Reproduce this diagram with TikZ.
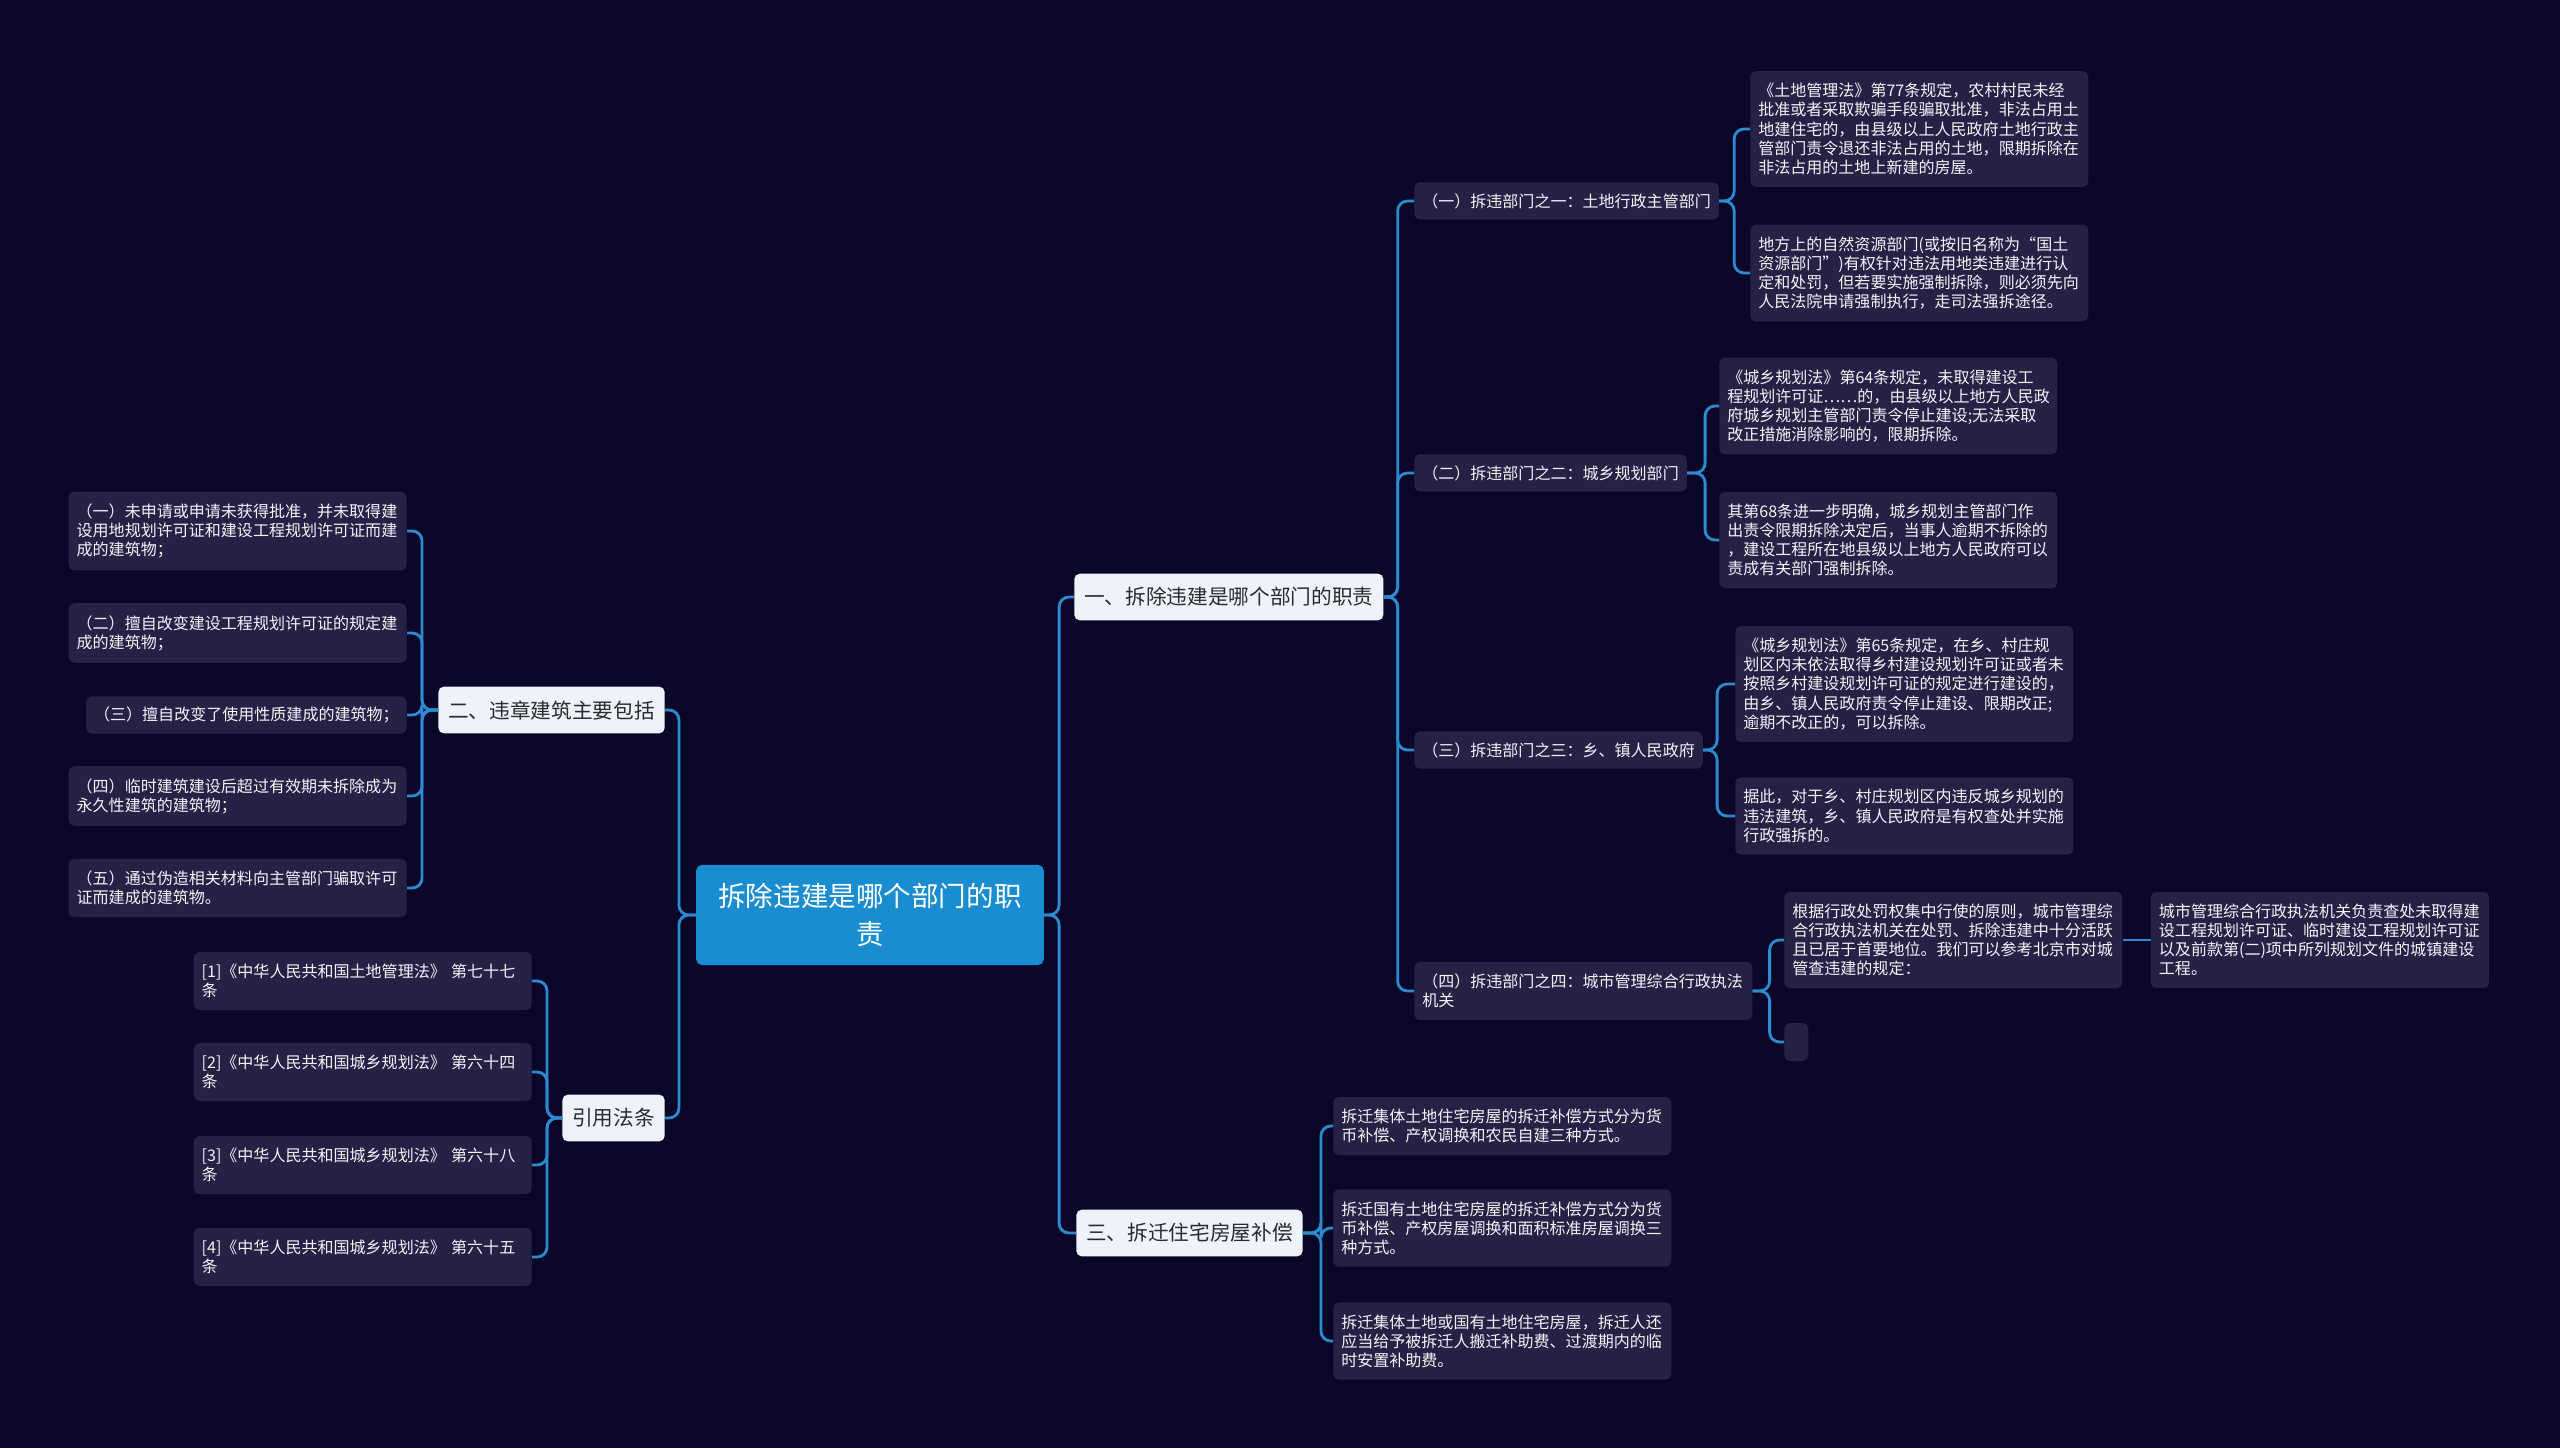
\documentclass[tikz,border=0pt]{standalone}
\usepackage{fontspec}
\setmainfont{Noto Sans CJK SC}
\usetikzlibrary{positioning}
\definecolor{navy}{HTML}{0A0729}
\definecolor{slate}{HTML}{262246}
\definecolor{paper}{HTML}{EEF3FB}
\definecolor{sky}{HTML}{1A8DD0}
\definecolor{wire}{HTML}{2E8AD0}
\definecolor{ink}{HTML}{2B2B2B}
\definecolor{snow}{HTML}{F4F4F8}

\begin{document}
\begin{tikzpicture}[
  x=0.025cm, y=-0.025cm,
  root/.style={
    fill=sky, rounded corners=4pt, text=white,
    font=\fontsize{19.6pt}{26.7pt}\selectfont,
    text width=216pt, align=center, inner xsep=15.6pt, minimum height=2.5cm
  },
  topic/.style={
    fill=paper, rounded corners=4pt, text=ink,
    font=\fontsize{14.7pt}{17pt}\selectfont,
    inner xsep=7pt, minimum height=1.17cm
  },
  branch/.style={
    fill=slate, rounded corners=4pt, text=snow,
    font=\fontsize{11.4pt}{13.6pt}\selectfont,
    inner xsep=5.7pt, minimum height=0.93cm
  },
  leaf/.style={branch, text width=229pt, align=left, inner ysep=8.6pt, minimum height=0pt},
  link/.style={draw=wire, line width=2pt, rounded corners=7pt}
]
  \useasboundingbox (0,0) rectangle (2560,1448);
  \fill[navy] (0,0) rectangle (2560,1448);

  \node[root] (root) at (870,915) {拆除违建是哪个部门的职\\责};
  \node[topic, anchor=west] (duty)  at (1074,597)  {一、拆除违建是哪个部门的职责};
  \node[topic, anchor=east] (kinds) at (665,710)   {二、违章建筑主要包括};
  \node[topic, anchor=east] (laws)  at (665,1118)  {引用法条};
  \node[topic, anchor=west] (comp)  at (1076,1233) {三、拆迁住宅房屋补偿};
  \draw[link] (root.east) -- ++(15,0) |- (duty.west);
  \draw[link] (root.east) -- ++(15,0) |- (comp.west);
  \draw[link] (root.west) -- ++(-17,0) |- (kinds.east);
  \draw[link] (root.west) -- ++(-17,0) |- (laws.east);

  % departments
  \node[branch, anchor=west] (d1) at (1414,201) {（一）拆违部门之一：土地行政主管部门};
  \node[branch, anchor=west] (d2) at (1414,473) {（二）拆违部门之二：城乡规划部门};
  \node[branch, anchor=west] (d3) at (1414,750) {（三）拆违部门之三：乡、镇人民政府};
  \node[leaf, anchor=west]   (d4) at (1414,991) {（四）拆违部门之四：城市管理综合行政执法\\机关};
  \draw[link] (duty.east) -- ++(14,0) |- (d1.west);
  \draw[link] (duty.east) -- ++(14,0) |- (d2.west);
  \draw[link] (duty.east) -- ++(14,0) |- (d3.west);
  \draw[link] (duty.east) -- ++(14,0) |- (d4.west);

  \node[leaf, anchor=west] (d1a) at (1750,129) {《土地管理法》第77条规定，农村村民未经\\批准或者采取欺骗手段骗取批准，非法占用土\\地建住宅的，由县级以上人民政府土地行政主\\管部门责令退还非法占用的土地，限期拆除在\\非法占用的土地上新建的房屋。};
  \node[leaf, anchor=west] (d1b) at (1750,273) {地方上的自然资源部门(或按旧名称为“国土\\资源部门”)有权针对违法用地类违建进行认\\定和处罚，但若要实施强制拆除，则必须先向\\人民法院申请强制执行，走司法强拆途径。};
  \draw[link] (d1.east) -- ++(15,0) |- (d1a.west);
  \draw[link] (d1.east) -- ++(15,0) |- (d1b.west);

  \node[leaf, anchor=west] (d2a) at (1719,406) {《城乡规划法》第64条规定，未取得建设工\\程规划许可证……的，由县级以上地方人民政\\府城乡规划主管部门责令停止建设;无法采取\\改正措施消除影响的，限期拆除。};
  \node[leaf, anchor=west] (d2b) at (1719,540) {其第68条进一步明确，城乡规划主管部门作\\出责令限期拆除决定后，当事人逾期不拆除的\\，建设工程所在地县级以上地方人民政府可以\\责成有关部门强制拆除。};
  \draw[link] (d2.east) -- ++(18,0) |- (d2a.west);
  \draw[link] (d2.east) -- ++(18,0) |- (d2b.west);

  \node[leaf, anchor=west] (d3a) at (1735,684) {《城乡规划法》第65条规定，在乡、村庄规\\划区内未依法取得乡村建设规划许可证或者未\\按照乡村建设规划许可证的规定进行建设的，\\由乡、镇人民政府责令停止建设、限期改正;\\逾期不改正的，可以拆除。};
  \node[leaf, anchor=west] (d3b) at (1735,816) {据此，对于乡、村庄规划区内违反城乡规划的\\违法建筑，乡、镇人民政府是有权查处并实施\\行政强拆的。};
  \draw[link] (d3.east) -- ++(14,0) |- (d3a.west);
  \draw[link] (d3.east) -- ++(14,0) |- (d3b.west);

  \node[leaf, anchor=west] (d4a) at (1784,940) {根据行政处罚权集中行使的原则，城市管理综\\合行政执法机关在处罚、拆除违建中十分活跃\\且已居于首要地位。我们可以参考北京市对城\\管查违建的规定：};
  \node[leaf, right=0.7cm of d4a] (d4c) {城市管理综合行政执法机关负责查处未取得建\\设工程规划许可证、临时建设工程规划许可证\\以及前款第(二)项中所列规划文件的城镇建设\\工程。};
  \node[fill=slate, rounded corners=4pt, minimum width=0.6cm, minimum height=0.95cm,
    inner sep=0pt, anchor=west] (d4b) at (1784,1042) {};
  \draw[link] (d4.east) -- ++(17,0) |- (d4a.west);
  \draw[link] (d4.east) -- ++(17,0) |- (d4b.west);
  \draw[link] (d4a) -- (d4c);

  % compensation
  \node[leaf, anchor=west] (c1) at (1333,1126) {拆迁集体土地住宅房屋的拆迁补偿方式分为货\\币补偿、产权调换和农民自建三种方式。};
  \node[leaf, anchor=west] (c2) at (1333,1228) {拆迁国有土地住宅房屋的拆迁补偿方式分为货\\币补偿、产权房屋调换和面积标准房屋调换三\\种方式。};
  \node[leaf, anchor=west] (c3) at (1333,1341) {拆迁集体土地或国有土地住宅房屋，拆迁人还\\应当给予被拆迁人搬迁补助费、过渡期内的临\\时安置补助费。};
  \draw[link] (comp.east) -- ++(18,0) |- (c1.west);
  \draw[link] (comp.east) -- ++(18,0) |- (c2.west);
  \draw[link] (comp.east) -- ++(18,0) |- (c3.west);

  % kinds of illegal buildings
  \node[leaf, anchor=east]   (k1) at (407,531) {（一）未申请或申请未获得批准，并未取得建\\设用地规划许可证和建设工程规划许可证而建\\成的建筑物；};
  \node[leaf, anchor=east]   (k2) at (407,633) {（二）擅自改变建设工程规划许可证的规定建\\成的建筑物；};
  \node[branch, anchor=east] (k3) at (407,715) {（三）擅自改变了使用性质建成的建筑物；};
  \node[leaf, anchor=east]   (k4) at (407,796) {（四）临时建筑建设后超过有效期未拆除成为\\永久性建筑的建筑物；};
  \node[leaf, anchor=east]   (k5) at (407,888) {（五）通过伪造相关材料向主管部门骗取许可\\证而建成的建筑物。};
  \draw[link] (kinds.west) -- ++(-16,0) |- (k1.east);
  \draw[link] (kinds.west) -- ++(-16,0) |- (k2.east);
  \draw[link] (kinds.west) -- ++(-16,0) |- (k3.east);
  \draw[link] (kinds.west) -- ++(-16,0) |- (k4.east);
  \draw[link] (kinds.west) -- ++(-16,0) |- (k5.east);

  % cited articles
  \node[leaf, anchor=east] (l1) at (532,981)  {[1]《中华人民共和国土地管理法》~第七十七\\条};
  \node[leaf, anchor=east] (l2) at (532,1072) {[2]《中华人民共和国城乡规划法》~第六十四\\条};
  \node[leaf, anchor=east] (l3) at (532,1165) {[3]《中华人民共和国城乡规划法》~第六十八\\条};
  \node[leaf, anchor=east] (l4) at (532,1257) {[4]《中华人民共和国城乡规划法》~第六十五\\条};
  \draw[link] (laws.west) -- ++(-15,0) |- (l1.east);
  \draw[link] (laws.west) -- ++(-15,0) |- (l2.east);
  \draw[link] (laws.west) -- ++(-15,0) |- (l3.east);
  \draw[link] (laws.west) -- ++(-15,0) |- (l4.east);
\end{tikzpicture}
\end{document}
